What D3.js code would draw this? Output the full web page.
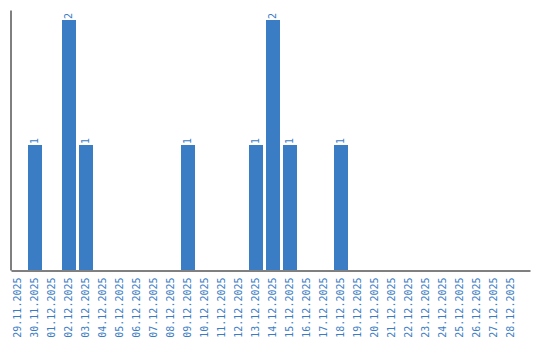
<!DOCTYPE html>
<html>
<head>
<meta charset="utf-8">
<script src="https://cdn.jsdelivr.net/npm/d3@7"></script>
<style>
  body { margin: 0; background: #fff; }
  svg { display: block; }
  text { font-family: "DejaVu Sans Mono", "Liberation Mono", monospace; }
</style>
</head>
<body>
<div id="chart"></div>
<script>
const dates = [
  "29.11.2025", "30.11.2025", "01.12.2025", "02.12.2025", "03.12.2025",
  "04.12.2025", "05.12.2025", "06.12.2025", "07.12.2025", "08.12.2025",
  "09.12.2025", "10.12.2025", "11.12.2025", "12.12.2025", "13.12.2025",
  "14.12.2025", "15.12.2025", "16.12.2025", "17.12.2025", "18.12.2025",
  "19.12.2025", "20.12.2025", "21.12.2025", "22.12.2025", "23.12.2025",
  "24.12.2025", "25.12.2025", "26.12.2025", "27.12.2025", "28.12.2025"
];
const counts = [
  0, 1, 0, 2, 1,
  0, 0, 0, 0, 0,
  1, 0, 0, 0, 1,
  2, 1, 0, 0, 1,
  0, 0, 0, 0, 0,
  0, 0, 0, 0, 0
];

const data = dates.map((d, i) => ({ date: d, count: counts[i] }));

const width = 540, height = 340;
const blue = "#3b7dc4";
const mono = "DejaVu Sans Mono, Liberation Mono, monospace";

const svg = d3.select("#chart")
  .append("svg")
  .attr("width", width)
  .attr("height", height);

const x = d3.scaleBand()
  .domain(dates)
  .range([11, 530])
  .paddingInner(0.1765)
  .paddingOuter(0.353)
  .align(0);

const y = d3.scaleLinear()
  .domain([0, 2.08])
  .range([270, 10]);

// bars
svg.selectAll(".bar")
  .data(data.filter(d => d.count > 0))
  .enter().append("rect")
  .attr("class", "bar")
  .attr("x", d => x(d.date))
  .attr("width", x.bandwidth())
  .attr("y", d => y(d.count))
  .attr("height", d => y(0) - y(d.count))
  .attr("fill", blue);

// value labels
svg.selectAll(".val")
  .data(data.filter(d => d.count > 0))
  .enter().append("text")
  .attr("class", "val")
  .attr("transform", d => `translate(${x(d.date) + x.bandwidth() / 2},${y(d.count) - 1}) rotate(-90)`)
  .attr("dy", "0.35em")
  .style("text-anchor", "start")
  .style("font-size", "10px")
  .style("font-family", mono)
  .attr("fill", blue)
  .text(d => d.count);

// x axis
const xAxis = svg.append("g")
  .attr("transform", "translate(0,270.5)")
  .call(d3.axisBottom(x).tickSize(0).tickSizeOuter(0).tickPadding(0));
xAxis.select(".domain").attr("stroke", "#000");
xAxis.selectAll("text")
  .attr("transform", "rotate(-90)")
  .attr("x", -7)
  .attr("y", 0)
  .attr("dy", "0.35em")
  .style("text-anchor", "end")
  .style("font-size", "10px")
  .style("font-family", mono)
  .attr("fill", blue);

// y axis (line only)
const yAxis = svg.append("g")
  .attr("transform", "translate(10.5,0)")
  .call(d3.axisLeft(y).tickValues([]).tickSizeOuter(0));
yAxis.select(".domain").attr("stroke", "#000");
</script>
</body>
</html>
